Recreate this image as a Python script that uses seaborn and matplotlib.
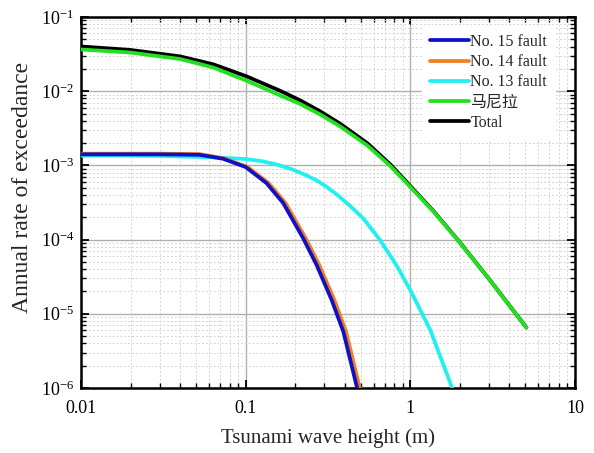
import numpy as np
import pandas as pd
import matplotlib
matplotlib.use("Agg")
import matplotlib.pyplot as plt
import matplotlib.ticker as mticker
from matplotlib.lines import Line2D
import seaborn as sns

# ---- data ----
x_f15 = [0.01, 0.02, 0.0299, 0.0524, 0.0727, 0.1, 0.1336, 0.169, 0.224, 0.270, 0.333, 0.392, 0.475]
y_f15 = [1.41e-3, 1.41e-3, 1.41e-3, 1.39e-3, 1.23e-3, 9.5e-4, 5.78e-4, 3.11e-4, 1.03e-4, 4.52e-5, 1.53e-5, 5.73e-6, 1.0e-6]

x_f14 = [0.01, 0.02, 0.0299, 0.0524, 0.0744, 0.1028, 0.138, 0.1746, 0.2323, 0.280, 0.346, 0.407, 0.493]
y_f14 = [1.44e-3, 1.44e-3, 1.44e-3, 1.42e-3, 1.24e-3, 9.5e-4, 5.78e-4, 3.11e-4, 1.03e-4, 4.52e-5, 1.53e-5, 5.73e-6, 1.0e-6]

x_f13 = [0.01, 0.02, 0.0299, 0.0603, 0.1, 0.125, 0.154, 0.194, 0.23, 0.270, 0.31, 0.357, 0.43, 0.519, 0.656, 0.830, 1.0, 1.324, 1.795]
y_f13 = [1.35e-3, 1.35e-3, 1.34e-3, 1.29e-3, 1.22e-3, 1.14e-3, 1.03e-3, 8.75e-4, 7.45e-4, 6.28e-4, 5.15e-4, 4.07e-4, 2.85e-4, 1.92e-4, 9.8e-5, 4.38e-5, 2.08e-5, 6.0e-6, 1.0e-6]

x_manila = [0.01, 0.01986, 0.03997, 0.06345, 0.1007, 0.1621, 0.2145, 0.2837, 0.3754, 0.5479, 0.7557, 1.0, 1.380, 1.958, 3.064, 5.072]
y_manila = [0.03648, 0.03323, 0.02716, 0.02087, 0.01393, 0.00875, 0.006722, 0.004853, 0.003344, 0.001854, 9.815e-4, 5.116e-4, 2.391e-4, 9.634e-5, 2.784e-5, 6.516e-6]

x_total = [0.01, 0.01986, 0.03997, 0.06345, 0.1007, 0.1621, 0.2145, 0.2837, 0.3754, 0.5479, 0.7557, 1.0, 1.380, 1.958, 3.064, 5.072]
y_total = [0.04004, 0.03601, 0.02944, 0.02304, 0.01593, 0.01012, 0.007516, 0.005342, 0.003636, 0.001991, 1.031e-3, 5.277e-4, 2.43e-4, 9.7e-5, 2.79e-5, 6.52e-6]

labels = ["No. 15 fault", "No. 14 fault", "No. 13 fault", "马尼拉", "Total"]
colors = ["#1010c8", "#f08020", "#20f0f0", "#20e020", "#000000"]
x_ticks = [0.01, 0.1, 1, 10]
x_tick_labels = ["0.01", "0.1", "1", "10"]

series = [(x_f15, y_f15), (x_f14, y_f14), (x_f13, y_f13), (x_manila, y_manila), (x_total, y_total)]
frames = []
for lab, (xs, ys) in zip(labels, series):
    frames.append(pd.DataFrame({"h": xs, "rate": ys, "src": lab}))
df = pd.concat(frames, ignore_index=True)

# ---- styling ----
sns.set_theme(style="white")
plt.rcParams["font.family"] = ["Liberation Serif", "Noto Sans CJK SC"]
plt.rcParams["mathtext.fontset"] = "stix"

fig = plt.figure(figsize=(5.94, 4.53), dpi=100)
ax = fig.add_axes([0.1364, 0.1435, 0.8316, 0.819])

palette = dict(zip(labels, colors))
zorders = {"Total": 2, "马尼拉": 3, "No. 13 fault": 4, "No. 14 fault": 5, "No. 15 fault": 6}
for lab in ["Total", "马尼拉", "No. 13 fault", "No. 14 fault", "No. 15 fault"]:
    sub = df[df["src"] == lab]
    sns.lineplot(data=sub, x="h", y="rate", color=palette[lab], lw=2.7,
                 estimator=None, ax=ax, zorder=zorders[lab], label=None)

ax.set_xscale("log")
ax.set_yscale("log")
ax.set_xlim(0.01, 10)
ax.set_ylim(1e-6, 1e-1)

ax.xaxis.set_major_locator(mticker.FixedLocator(x_ticks))
ax.xaxis.set_major_formatter(mticker.FixedFormatter(x_tick_labels))
ax.xaxis.set_minor_locator(mticker.LogLocator(base=10, subs=np.arange(2, 10)))
ax.xaxis.set_minor_formatter(mticker.NullFormatter())
ax.yaxis.set_major_locator(mticker.LogLocator(base=10, numticks=10))
ax.yaxis.set_minor_locator(mticker.LogLocator(base=10, subs=np.arange(2, 10), numticks=10))
ax.yaxis.set_minor_formatter(mticker.NullFormatter())

ax.grid(which="major", color="#b0b0b0", lw=1.0, ls="-")
ax.grid(which="minor", color="#d4d4d4", lw=0.7, ls=(0, (2, 2)))
ax.set_axisbelow(True)

ax.tick_params(which="both", direction="in", top=True, right=True, bottom=True, left=True,
               colors="black")
ax.tick_params(which="major", length=6, width=1.3)
ax.tick_params(which="minor", length=3.5, width=1.0)
ax.tick_params(axis="x", labelsize=13, pad=9)
ax.tick_params(axis="y", labelsize=13, pad=5)
for s in ax.spines.values():
    s.set_color("black")
    s.set_linewidth(1.8)

ax.set_xlabel("Tsunami wave height (m)", fontsize=15, labelpad=8)
ax.set_ylabel("Annual rate of exceedance", fontsize=17)
ax.yaxis.set_label_coords(-0.097, 0.54)

handles = [Line2D([0], [0], color=palette[l], lw=2.7) for l in labels]
leg = ax.legend(handles, labels, loc="upper right", bbox_to_anchor=(0.976, 0.997),
                frameon=True, fontsize=11.5, handlelength=2.4, handletextpad=0.1,
                labelspacing=0.26, borderpad=0.5)
leg.get_frame().set_edgecolor("white")
leg.get_frame().set_facecolor("white")
leg.get_frame().set_alpha(1.0)

fig.savefig("out.png", dpi=100)
